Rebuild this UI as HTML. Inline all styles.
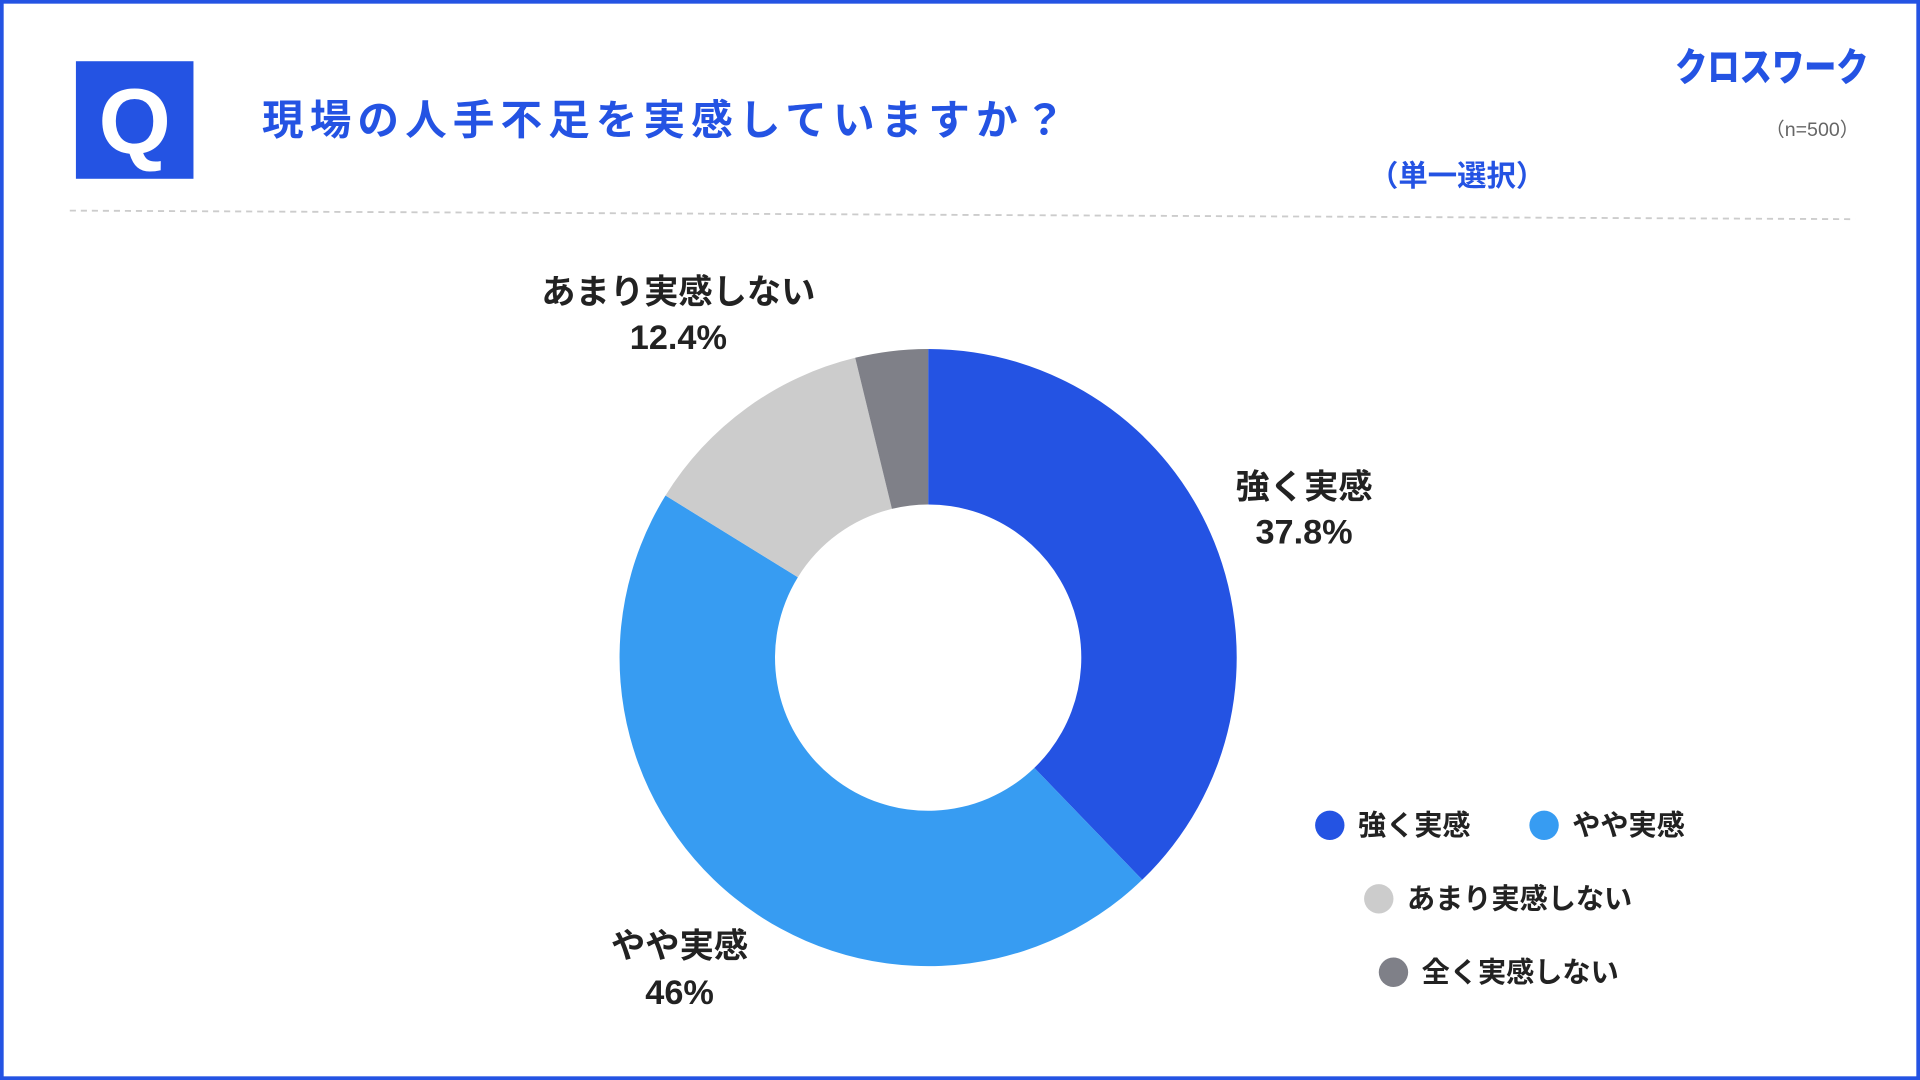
<!DOCTYPE html>
<html><head><meta charset="utf-8"><style>
html,body{margin:0;padding:0;background:#fff;}
svg{display:block;font-family:"Liberation Sans","Noto Sans CJK JP",sans-serif;}
</style></head><body>
<svg width="1920" height="1080" viewBox="0 0 1568 882" preserveAspectRatio="none" xmlns="http://www.w3.org/2000/svg">
<rect x="0" y="0" width="1568" height="882" fill="#fff"/>
<rect x="1.5" y="1.5" width="1565" height="879" fill="none" stroke="#2453e3" stroke-width="3"/>
<rect x="62" y="50" width="96" height="96" fill="#2453e3"/>
<text x="110" y="125" font-size="76" font-weight="bold" fill="#fff" text-anchor="middle">Q</text>
<text x="214" y="110" font-size="34" font-weight="bold" fill="#2453e3" textLength="656" lengthAdjust="spacing">現場の人手不足を実感していますか？</text>
<text x="1368" y="66" font-size="32" font-weight="900" fill="#2453e3" textLength="158" lengthAdjust="spacingAndGlyphs">クロスワーク</text>
<text x="1480" y="111" font-size="16" fill="#666" text-anchor="middle">（n=500）</text>
<text x="1190" y="152" font-size="24" font-weight="bold" fill="#2453e3" text-anchor="middle">（単一選択）</text>
<line x1="57" y1="172" x2="1515" y2="179" stroke="#ccc" stroke-width="1.5" stroke-dasharray="5,4"/>
<path d="M758,285 A252,252 0 0 1 932.8,718.5 L844.7,627.1 A125,125 0 0 0 758,412 Z" fill="#2453e3"/>
<path d="M932.8,718.5 A252,252 0 0 1 543.5,404.7 L651.6,471.4 A125,125 0 0 0 844.7,627.1 Z" fill="#379cf2"/>
<path d="M543.5,404.7 A252,252 0 0 1 698.4,292.2 L728.4,415.6 A125,125 0 0 0 651.6,471.4 Z" fill="#cccccc"/>
<path d="M698.4,292.2 A252,252 0 0 1 758,285 L758,412 A125,125 0 0 0 728.4,415.6 Z" fill="#7f8088"/>
<g font-size="28" font-weight="bold" fill="#222" text-anchor="middle">
<text x="554" y="248">あまり実感しない</text>
<text x="554" y="285">12.4%</text>
<text x="1065" y="407">強く実感</text>
<text x="1065" y="444">37.8%</text>
<text x="555" y="782">やや実感</text>
<text x="555" y="820">46%</text>
</g>
<g font-size="23" font-weight="bold" fill="#222">
<circle cx="1086" cy="674" r="12" fill="#2453e3"/><text x="1109" y="682">強く実感</text>
<circle cx="1261" cy="674" r="12" fill="#379cf2"/><text x="1284" y="682">やや実感</text>
<circle cx="1126" cy="734" r="12" fill="#cccccc"/><text x="1149" y="742">あまり実感しない</text>
<circle cx="1138" cy="794" r="12" fill="#7f8088"/><text x="1161" y="802">全く実感しない</text>
</g>
</svg>
</body></html>
